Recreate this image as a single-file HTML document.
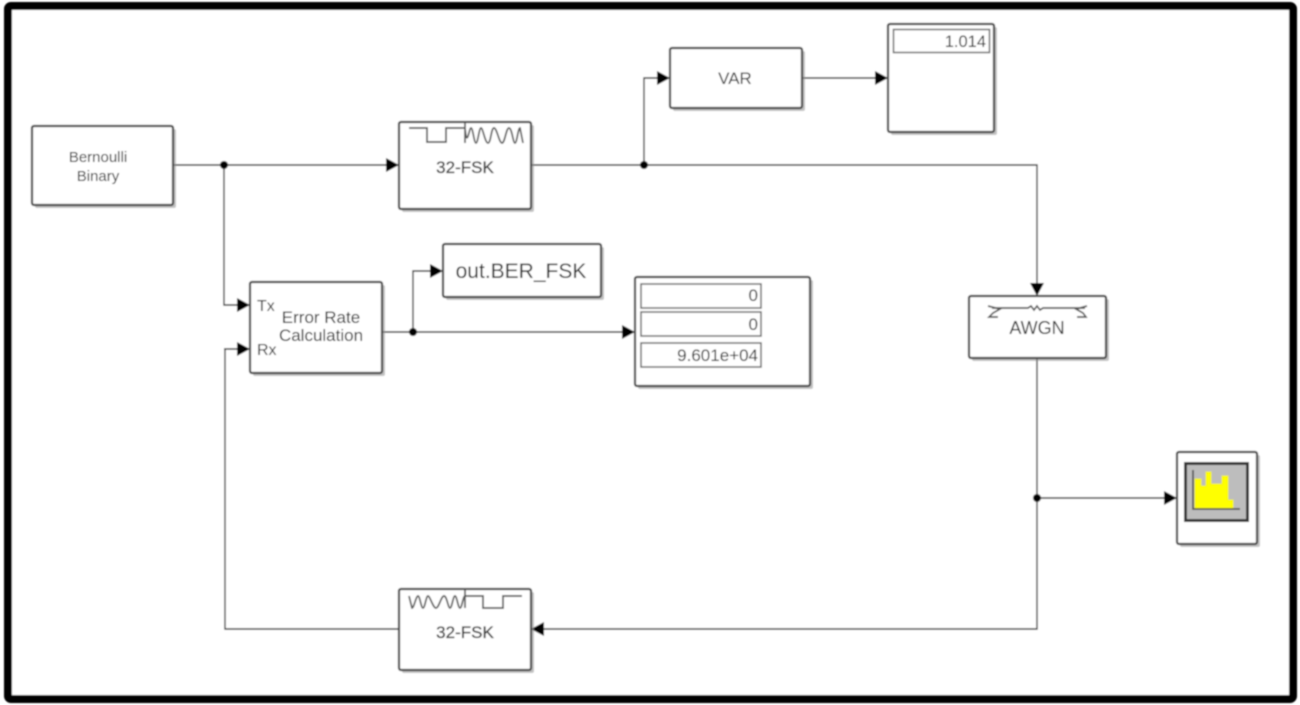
<!DOCTYPE html>
<html>
<head>
<meta charset="utf-8">
<style>
html,body{margin:0;padding:0;background:#fff;width:1300px;height:705px;overflow:hidden}
svg{display:block}
text{font-family:"Liberation Sans",sans-serif;fill:#222}
.b{fill:#fff;stroke:#444;stroke-width:2.2}
.s{fill:#999;opacity:.6}
.l{fill:none;stroke:#333;stroke-width:1.4}
.g{fill:none;stroke:#555;stroke-width:1.7}
.i{fill:#fff;stroke:#666;stroke-width:1.5}
.a{fill:#000}
</style>
</head>
<body>
<svg width="1300" height="705" viewBox="0 0 1300 705" xmlns="http://www.w3.org/2000/svg">
<defs><filter id="f" x="-2%" y="-2%" width="104%" height="104%"><feGaussianBlur stdDeviation="0.9"/></filter></defs>
<rect width="1300" height="705" fill="#fff"/>
<g filter="url(#f)">
<rect x="8" y="6" width="1285" height="693" rx="3" fill="#fff" stroke="#000" stroke-width="8"/>

<!-- connectors -->
<path class="l" d="M173 165H387M224 165V305H238M224 349H238M225 349V629H399"/>
<path class="l" d="M531 165H1037V284M644 165V78H658M802 78H876"/>
<path class="l" d="M382 332H623M413 332V271H431"/>
<path class="l" d="M1037 358V629H543M1037 498H1165"/>
<circle class="a" cx="224" cy="165" r="4"/>
<circle class="a" cx="644" cy="165" r="4"/>
<circle class="a" cx="413" cy="332" r="4"/>
<circle class="a" cx="1037" cy="498" r="4"/>
<path class="a" d="M386 158L399 165L386 172Z"/>
<path class="a" d="M657 71L670 78L657 85Z"/>
<path class="a" d="M875 71L888 78L875 85Z"/>
<path class="a" d="M237 298L250 305L237 312Z"/>
<path class="a" d="M237 342L250 349L237 356Z"/>
<path class="a" d="M430 264L443 271L430 278Z"/>
<path class="a" d="M622 325L635 332L622 339Z"/>
<path class="a" d="M1030 283L1037 296L1044 283Z"/>
<path class="a" d="M1164 491L1177 498L1164 505Z"/>
<path class="a" d="M544 622L531 629L544 636Z"/>

<!-- Bernoulli -->
<rect class="s" x="35" y="129" width="141" height="79" rx="2"/>
<rect class="b" x="32" y="126" width="141" height="79" rx="2"/>
<text x="98" y="162" font-size="15" text-anchor="middle">Bernoulli</text>
<text x="98" y="181" font-size="15" text-anchor="middle">Binary</text>

<!-- FSK modulator -->
<rect class="s" x="402" y="125" width="132" height="87" rx="2"/>
<rect class="b" x="399" y="122" width="132" height="87" rx="2"/>
<path class="g" d="M409 128H427V142H446V128H465"/>
<path class="g" d="M465 122V143M465 128C467 150 469 128 471 128S474 143 476 143S479 128 481 128S485 143 488 143S491 128 494 128S499 143 502 143S506 128 509 128S513 143 515 143S518 128 520 128L523 143"/>
<text x="465" y="173" font-size="17" text-anchor="middle" style="fill:#333;stroke:#333;stroke-width:.3">32-FSK</text>

<!-- VAR -->
<rect class="s" x="673" y="51" width="132" height="60" rx="2"/>
<rect class="b" x="670" y="48" width="132" height="60" rx="2"/>
<text x="735" y="84" font-size="17" text-anchor="middle">VAR</text>

<!-- Display 1 -->
<rect class="s" x="891" y="27" width="106" height="108" rx="2"/>
<rect class="b" x="888" y="24" width="106" height="108" rx="2"/>
<rect class="i" x="893.5" y="29.5" width="96" height="23"/>
<text x="986" y="47" font-size="16.5" text-anchor="end">1.014</text>

<!-- Error rate -->
<rect class="s" x="253" y="285" width="132" height="91" rx="2"/>
<rect class="b" x="250" y="282" width="132" height="91" rx="2"/>
<text x="257" y="311" font-size="16">Tx</text>
<text x="257" y="355" font-size="16">Rx</text>
<text x="321" y="323" font-size="17" text-anchor="middle">Error Rate</text>
<text x="321" y="341" font-size="17" text-anchor="middle">Calculation</text>

<!-- out -->
<rect class="s" x="446" y="247" width="158" height="53" rx="2"/>
<rect class="b" x="443" y="244" width="158" height="53" rx="2"/>
<text x="521" y="278" font-size="21" text-anchor="middle">out.BER_FSK</text>

<!-- Display 2 -->
<rect class="s" x="638" y="280" width="175" height="109" rx="2"/>
<rect class="b" x="635" y="277" width="175" height="109" rx="2"/>
<rect class="i" x="641" y="284" width="120" height="24"/>
<rect class="i" x="641" y="312" width="120" height="24"/>
<rect class="i" x="641" y="343" width="120" height="24"/>
<text x="758" y="301" font-size="17" text-anchor="end">0</text>
<text x="758" y="330" font-size="17" text-anchor="end">0</text>
<text x="758" y="361" font-size="17" text-anchor="end">9.601e+04</text>

<!-- AWGN -->
<rect class="s" x="972" y="299" width="137" height="62" rx="2"/>
<rect class="b" x="969" y="296" width="137" height="62" rx="2"/>
<path class="g" d="M992 308H1028L1031 306L1034 310L1037 306L1040 310L1043 308H1085" stroke-width="1.2"/>
<path class="g" d="M988 306L1000 309L993 313L989 317H998M1087 306L1076 309L1083 313L1086 317H1077" stroke-width="1.6"/>
<text x="1037" y="334" font-size="18" text-anchor="middle">AWGN</text>

<!-- Spectrum -->
<rect class="s" x="1180" y="455" width="80" height="92" rx="2"/>
<rect class="b" x="1177" y="452" width="80" height="92" rx="2"/>
<rect x="1185.5" y="463.5" width="62" height="57" fill="#bdbdbd" stroke="#333" stroke-width="3"/>
<path d="M1195 509V479H1201V486H1206V472H1211V484H1222V476H1228V500H1233V509Z" fill="#ffff00" stroke="#f0f000" stroke-width="1"/>
<path d="M1193 470V509H1240" fill="none" stroke="#555" stroke-width="1.8"/>

<!-- FSK demod -->
<rect class="s" x="402" y="592" width="132" height="81" rx="2"/>
<rect class="b" x="399" y="589" width="132" height="81" rx="2"/>
<path class="g" d="M465 589V608M465 596H483V608H503V596H522"/>
<path class="g" d="M409 596L412 608C414 608 416 596 418 596S421 608 423 608S426 596 428 596S433 608 436 608S441 596 444 596S448 608 450 608S453 596 455 596S458 608 460 608S463 596 465 596"/>
<text x="465" y="638" font-size="17" text-anchor="middle" style="fill:#333;stroke:#333;stroke-width:.3">32-FSK</text>
</g>
</svg>
</body>
</html>
